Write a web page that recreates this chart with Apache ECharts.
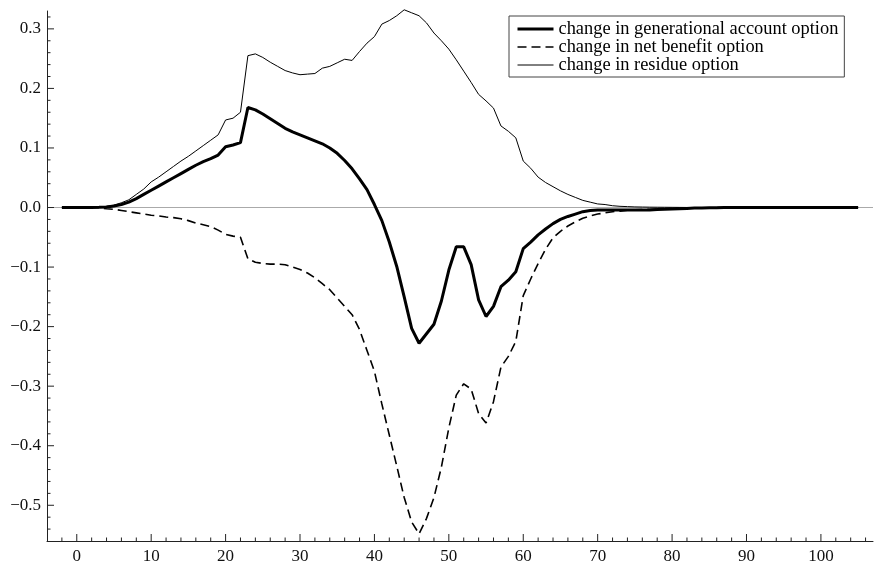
<!DOCTYPE html>
<html>
<head>
<meta charset="utf-8">
<script src="https://cdn.jsdelivr.net/npm/echarts@6/dist/echarts.min.js"></script>
<style>
  html, body { margin: 0; padding: 0; background: #fff; }
  #chart { width: 875px; height: 566px; }
</style>
</head>
<body>
<div id="chart"></div>
<script>
// ages -2 .. 105
const ages = []
for (let a = -2; a <= 105; a++) ages.push(a)

const gaChange = [
  0, 0, 0, 0, 0, 0.0003, 0.001, 0.0025, 0.005, 0.009,
  0.015, 0.022, 0.029, 0.036, 0.043, 0.050, 0.057, 0.064, 0.071, 0.077,
  0.082, 0.088, 0.102, 0.105, 0.109, 0.168, 0.164, 0.157, 0.149, 0.141,
  0.133, 0.127, 0.122, 0.117, 0.112, 0.107, 0.100, 0.091, 0.079, 0.065,
  0.048, 0.030, 0.005, -0.022, -0.058, -0.099, -0.150, -0.203, -0.228, -0.212,
  -0.196, -0.157, -0.105, -0.066, -0.066, -0.096, -0.155, -0.183, -0.166, -0.133,
  -0.122, -0.108, -0.069, -0.058, -0.046, -0.036, -0.027, -0.020, -0.015, -0.011,
  -0.007, -0.005, -0.004, -0.004, -0.004, -0.004, -0.004, -0.004, -0.004, -0.004,
  -0.0035, -0.003, -0.0025, -0.002, -0.0015, -0.001, -0.001, -0.0005, -0.0005, 0,
  0, 0, 0, 0, 0, 0, 0, 0, 0, 0,
  0, 0, 0, 0, 0, 0, 0, 0
]

const nbChange = [
  0, 0, 0, 0, 0, -0.0005, -0.002, -0.003, -0.005, -0.007,
  -0.009, -0.011, -0.013, -0.014, -0.016, -0.017, -0.019, -0.022, -0.026, -0.029,
  -0.032, -0.038, -0.045, -0.048, -0.050, -0.086, -0.092, -0.094, -0.095, -0.095,
  -0.096, -0.100, -0.104, -0.110, -0.118, -0.128, -0.138, -0.152, -0.166, -0.180,
  -0.205, -0.240, -0.275, -0.330, -0.382, -0.434, -0.487, -0.528, -0.548, -0.522,
  -0.487, -0.436, -0.370, -0.315, -0.296, -0.305, -0.346, -0.362, -0.326, -0.268,
  -0.250, -0.225, -0.148, -0.120, -0.094, -0.070, -0.051, -0.040, -0.031, -0.024,
  -0.018, -0.014, -0.011, -0.009, -0.007, -0.006, -0.0045, -0.004, -0.0035, -0.003,
  -0.0025, -0.002, -0.0015, -0.0012, -0.001, -0.0008, -0.0006, -0.0004, -0.0002, -0.0001,
  0, 0, 0, 0, 0, 0, 0, 0, 0, 0,
  0, 0, 0, 0, 0, 0, 0, 0
]

const resChange = [
  0, 0, 0, 0, 0, 0.0005, 0.002, 0.004, 0.008, 0.013,
  0.022, 0.031, 0.043, 0.051, 0.060, 0.069, 0.078, 0.086, 0.095, 0.104,
  0.113, 0.122, 0.147, 0.150, 0.160, 0.255, 0.258, 0.252, 0.244, 0.237,
  0.230, 0.226, 0.223, 0.224, 0.225, 0.234, 0.237, 0.243, 0.249, 0.247,
  0.262, 0.276, 0.287, 0.308, 0.314, 0.322, 0.332, 0.327, 0.322, 0.310,
  0.293, 0.280, 0.266, 0.248, 0.229, 0.210, 0.190, 0.179, 0.167, 0.137,
  0.128, 0.117, 0.078, 0.066, 0.051, 0.042, 0.035, 0.028, 0.022, 0.017,
  0.012, 0.009, 0.006, 0.005, 0.003, 0.002, 0.0015, 0.001, 0.0008, 0.0006,
  0.0005, 0.0004, 0.0003, 0.0002, 0.0001, 0, 0, 0, 0, 0,
  0, 0, 0, 0, 0, 0, 0, 0, 0, 0,
  0, 0, 0, 0, 0, 0, 0, 0
]

const seriesNames = [
  'change in generational account option',
  'change in net benefit option',
  'change in residue option'
]

const xMajorTicks = [0, 10, 20, 30, 40, 50, 60, 70, 80, 90, 100]
const yMajorTicks = [-0.5, -0.4, -0.3, -0.2, -0.1, 0, 0.1, 0.2, 0.3]

// minor ticks every 2 years / every 0.02
const xMinorTicks = []
for (let t = -2; t <= 106; t += 2) if (t % 10 !== 0) xMinorTicks.push(t)
const yMinorTicks = []
for (let k = -27; k <= 16; k++) if (k % 5 !== 0) yMinorTicks.push(+(k * 0.02).toFixed(2))

const FONT = '"Liberation Serif", "DejaVu Serif", serif'
const AXIS_COLOR = '#222'
const X_MIN = -4, X_MAX = 107
const Y_MIN = -0.56, Y_MAX = 0.33

const lineStyles = [
  { color: '#000', width: 3 },
  { color: '#000', width: 1.6, type: [9, 5] },
  { color: '#000', width: 1 }
]

function pairs(vals) {
  return ages.map((a, i) => [a, vals[i]])
}

function fmtY(v) {
  const s = Math.abs(v).toFixed(1)
  return v < -1e-9 ? '\u2212' + s : s
}

// inward ticks drawn as a custom series so they go through the axis scales
function tickSeries(dim, ticks, len) {
  return {
    type: 'custom',
    silent: true,
    clip: false,
    z: 5,
    data: ticks.map((t) => [t]),
    encode: dim === 'x' ? { x: 0 } : { y: 0 },
    renderItem(params, api) {
      const v = api.value(0)
      if (dim === 'x') {
        const p = api.coord([v, Y_MIN])
        return {
          type: 'line',
          shape: { x1: p[0], y1: p[1], x2: p[0], y2: p[1] - len },
          style: { stroke: AXIS_COLOR, lineWidth: 1 }
        }
      }
      const p = api.coord([X_MIN, v])
      return {
        type: 'line',
        shape: { x1: p[0], y1: p[1], x2: p[0] + len, y2: p[1] },
        style: { stroke: AXIS_COLOR, lineWidth: 1 }
      }
    }
  }
}

const chart = echarts.init(document.getElementById('chart'), null, { renderer: 'canvas' })

chart.setOption({
  backgroundColor: '#fff',
  animation: false,
  grid: { left: 47, right: 2, top: 11, bottom: 25, containLabel: false },
  legend: {
    orient: 'vertical',
    left: 509,
    top: 16,
    data: seriesNames.map((n, i) => ({ name: n, lineStyle: lineStyles[i] })),
    itemWidth: 36,
    itemHeight: 12,
    itemGap: 0,
    padding: [4, 6, 3, 7],
    backgroundColor: '#fff',
    borderColor: '#444',
    borderWidth: 1,
    borderRadius: 0,
    itemStyle: { opacity: 0 },
    textStyle: { fontFamily: FONT, fontSize: 18.4, lineHeight: 18, color: '#000' }
  },
  xAxis: {
    type: 'value', min: X_MIN, max: X_MAX, position: 'bottom',
    axisLine: { show: true, onZero: false, lineStyle: { color: AXIS_COLOR, width: 1 } },
    axisTick: { show: false },
    axisLabel: { customValues: xMajorTicks, fontFamily: FONT, fontSize: 17, color: '#111', margin: 7 },
    splitLine: { show: false }
  },
  yAxis: {
    type: 'value', min: Y_MIN, max: Y_MAX, position: 'left',
    axisLine: { show: true, onZero: false, lineStyle: { color: AXIS_COLOR, width: 1 } },
    axisTick: { show: false },
    axisLabel: { customValues: yMajorTicks, formatter: fmtY, fontFamily: FONT, fontSize: 17, color: '#111', margin: 6 },
    splitLine: { show: false }
  },
  series: [
    {
      name: seriesNames[0],
      type: 'line',
      data: pairs(gaChange),
      symbol: 'none',
      clip: false,
      z: 4,
      itemStyle: { color: '#000' },
      lineStyle: lineStyles[0],
      markLine: {
        silent: true,
        z: 1,
        symbol: 'none',
        label: { show: false },
        lineStyle: { color: '#aaa', width: 1.2, type: 'solid' },
        data: [{ yAxis: 0 }]
      }
    },
    {
      name: seriesNames[1],
      type: 'line',
      data: pairs(nbChange),
      symbol: 'none',
      clip: false,
      z: 3,
      itemStyle: { color: '#000' },
      lineStyle: lineStyles[1]
    },
    {
      name: seriesNames[2],
      type: 'line',
      data: pairs(resChange),
      symbol: 'none',
      clip: false,
      z: 3,
      itemStyle: { color: '#000' },
      lineStyle: lineStyles[2]
    },
    tickSeries('x', xMajorTicks, 7),
    tickSeries('x', xMinorTicks, 3.5),
    tickSeries('y', yMajorTicks, 7),
    tickSeries('y', yMinorTicks, 3.5)
  ]
})
</script>
</body>
</html>
